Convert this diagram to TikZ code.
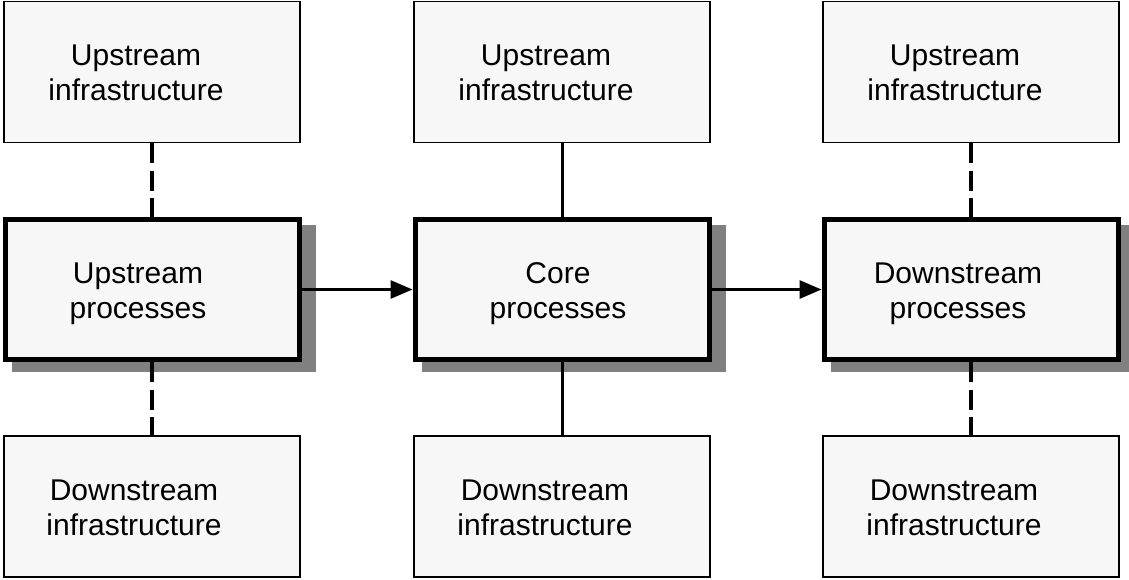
\documentclass[tikz,border=0pt]{standalone}
\usepackage{fontspec}
\setmainfont{Liberation Sans}
\usetikzlibrary{arrows.meta,backgrounds}
\definecolor{boxfill}{HTML}{F7F7F7}
\definecolor{shadowgray}{HTML}{808080}
\newcommand\twoline[3]{\raisebox{-4pt}[\height][\depth]{\begin{tabular}{@{}c@{}}#2\\#3\end{tabular}}\hspace*{#1pt}}
\begin{document}
\begin{tikzpicture}[x=1pt,y=-1pt,
  thinbox/.style={draw=black, line width=1.5pt, fill=boxfill, minimum width=296pt, minimum height=141pt, inner sep=0pt,
    font=\fontsize{30}{35}\selectfont},
  thickbox/.style={draw=black, line width=5pt, fill=boxfill, minimum width=294pt, minimum height=140pt, inner sep=0pt,
    font=\fontsize{30}{35}\selectfont},
  boxshadow/.style={fill=shadowgray},
  dashlink/.style={line width=4pt, dash pattern=on 20pt off 7.5pt},
  solidlink/.style={line width=3pt},
  flow/.style={line width=3pt, -{Triangle[length=22pt,width=18pt]}}
]
\useasboundingbox (0,0) rectangle (1129,580);
% process boxes
\node[thickbox] (P1) at (152,289.5) {\twoline{28}{Upstream}{processes}};
\node[thickbox] (P2) at (562,289.5) {\twoline{8}{Core}{processes}};
\node[thickbox] (P3) at (971,289.5) {\twoline{26}{Downstream}{processes}};
\begin{scope}[on background layer]
\fill[boxshadow] ([shift={(9,8)}]P1.north west) rectangle ([shift={(14,10)}]P1.south east);
\fill[boxshadow] ([shift={(9,8)}]P2.north west) rectangle ([shift={(14,10)}]P2.south east);
\fill[boxshadow] ([shift={(9,8)}]P3.north west) rectangle ([shift={(14,10)}]P3.south east);
\end{scope}
% infrastructure boxes
\node[thinbox] (T1) at (152,72) {\twoline{32}{Upstream}{infrastructure}};
\node[thinbox] (T2) at (562,72) {\twoline{32}{Upstream}{infrastructure}};
\node[thinbox] (T3) at (971,72) {\twoline{32}{Upstream}{infrastructure}};
\node[thinbox] (B1) at (152,506.5) {\twoline{36}{Downstream}{infrastructure}};
\node[thinbox] (B2) at (562,506.5) {\twoline{34}{Downstream}{infrastructure}};
\node[thinbox] (B3) at (971,506.5) {\twoline{34}{Downstream}{infrastructure}};
% links
\draw[dashlink] (T1.south) -- (P1.north);
\draw[dashlink] (P1.south) -- (B1.north);
\draw[solidlink] (T2.south) -- (P2.north);
\draw[solidlink] (P2.south) -- (B2.north);
\draw[dashlink] (T3.south) -- (P3.north);
\draw[dashlink] (P3.south) -- (B3.north);
\draw[flow] (P1.east) -- (P2.west);
\draw[flow] (P2.east) -- (P3.west);
\end{tikzpicture}
\end{document}
